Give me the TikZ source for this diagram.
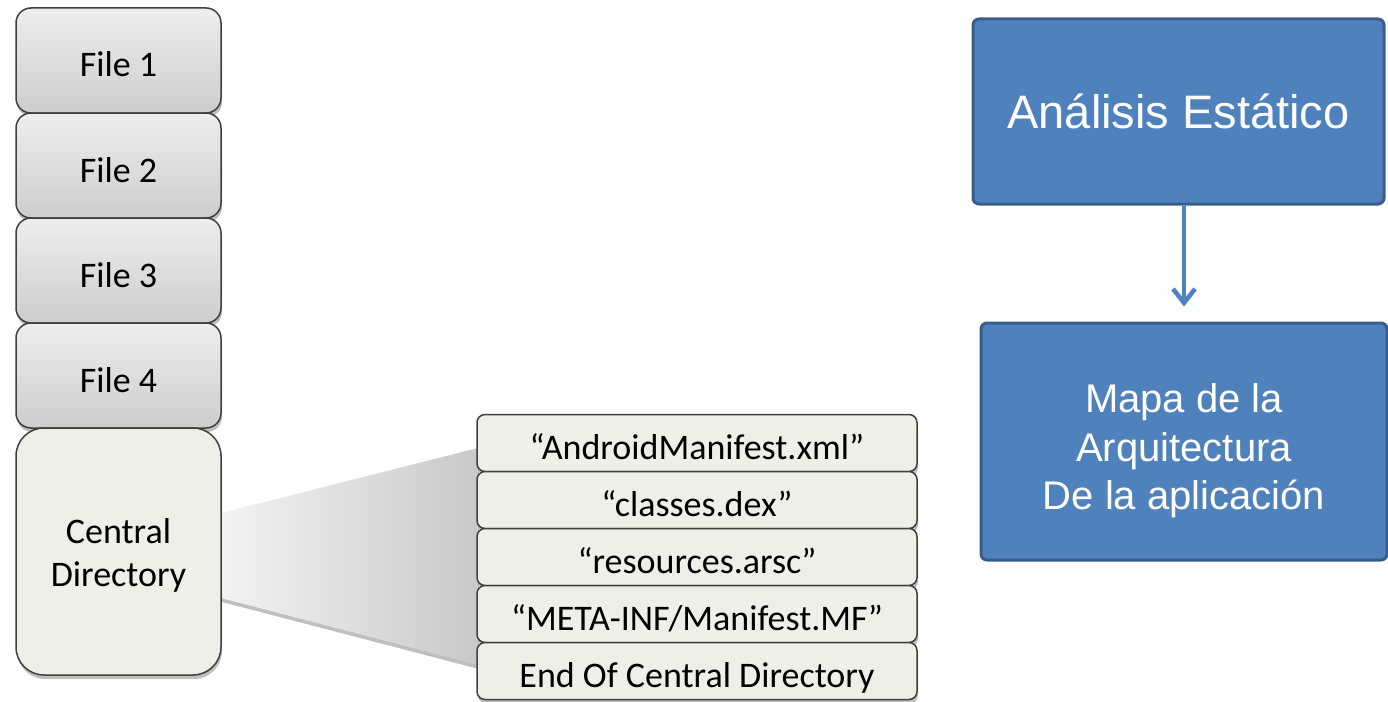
\documentclass[tikz,border=0pt]{standalone}
\usepackage{fontspec}
\setmainfont{Carlito}
\newfontfamily\arialfont{Liberation Sans}
\usetikzlibrary{arrows.meta,shadows}

\definecolor{boxline}{HTML}{3F3F3F}
\definecolor{fileTop}{HTML}{EEEEEE}
\definecolor{fileBot}{HTML}{CDCDCD}
\definecolor{paper}{HTML}{EFEFE7}
\definecolor{funnelL}{HTML}{F3F3F3}
\definecolor{funnelR}{HTML}{C9C9C9}
\definecolor{blueFill}{HTML}{4F81BD}
\definecolor{blueLine}{HTML}{385D8A}

% centred lines, lowered without changing the box size
\newcommand{\stacklines}[2]{\raisebox{#1}[\height][\depth]{\begin{tabular}{@{}c@{}}#2\end{tabular}}}

\tikzset{
  softshadow/.style={drop shadow={shadow xshift=1pt, shadow yshift=-4pt, opacity=0.25, fill=black}},
  filebox/.style={rectangle, rounded corners=15pt, draw=boxline, line width=1.5pt,
    top color=fileTop, bottom color=fileBot, minimum width=205pt, minimum height=105pt,
    inner sep=0pt, font=\fontsize{36}{43}\selectfont, text=black, softshadow,
    text height=33pt, text depth=0pt},
  dirbox/.style={rectangle, rounded corners=28pt, draw=boxline, line width=1.5pt,
    fill=paper, minimum width=205pt, minimum height=247pt, inner sep=0pt,
    font=\fontsize{36}{43}\selectfont, text=black, softshadow},
  entrybox/.style={rectangle, rounded corners=8pt, draw=boxline, line width=1.5pt,
    fill=paper, minimum width=440pt, minimum height=57pt, inner sep=0pt,
    font=\fontsize{36}{44}\selectfont, text=black, softshadow,
    text height=33pt, text depth=0pt},
  bluebox/.style={rectangle, rounded corners=6pt, draw=blueLine, line width=3pt,
    fill=blueFill, inner sep=0pt, text=white},
  flow/.style={draw=blueFill, line width=4.5pt,
    -{Straight Barb[length=14pt,width=22pt]}}
}

\begin{document}
\begin{tikzpicture}[x=1pt,y=-1pt]
\useasboundingbox (0,0) rectangle (1388,701);

% funnel linking the central directory to its entries
\path[left color=funnelL, right color=funnelR, softshadow]
  (221,513) -- (478,448) -- (478,665) -- (221,598) -- cycle;

% zip archive layout
\node[filebox] (f1) at (118.5,60.5) {File 1};
\node[filebox] (f2) at (118.5,165.5) {File 2};
\node[filebox] (f3) at (118.5,270.5) {File 3};
\node[filebox] (f4) at (118.5,375.5) {File 4};
\node[dirbox]  (cd) at (118.5,551.5) {\stacklines{-5pt}{Central\\Directory}};

% central directory entries
\node[entrybox] (e1) at (697,443) {“AndroidManifest.xml”};
\node[entrybox] (e2) at (697,500) {“classes.dex”};
\node[entrybox] (e3) at (697,557) {“resources.arsc”};
\node[entrybox] (e4) at (697,614) {“META-INF/Manifest.MF”};
\node[entrybox] (e5) at (697,671) {End Of Central Directory};

% static analysis flow
\node[bluebox, minimum width=411pt, minimum height=185pt,
      font=\arialfont\fontsize{47}{56}\selectfont] (sa) at (1178.5,111.5) {Análisis Estático};
\node[bluebox, minimum width=406pt, minimum height=237pt,
      font=\arialfont\fontsize{40}{48.5}\selectfont] (map) at (1184,441.5)
      {\stacklines{-10pt}{Mapa de la\\Arquitectura\\De la aplicación}};
\draw[flow] (map.north |- sa.south) -- ([yshift=15pt]map.north);
\end{tikzpicture}
\end{document}
